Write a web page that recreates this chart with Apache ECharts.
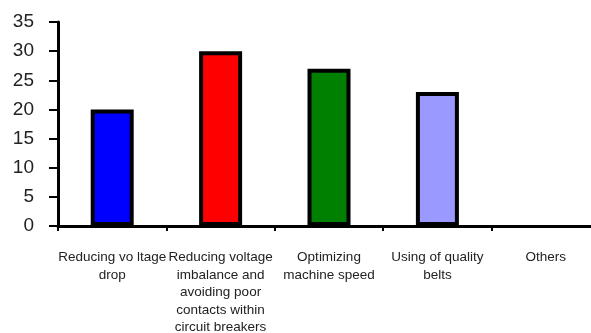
<!DOCTYPE html>
<html>
<head>
<meta charset="utf-8">
<script src="https://cdn.jsdelivr.net/npm/echarts@6/dist/echarts.min.js"></script>
<style>
  html, body { margin: 0; padding: 0; background: #fff; }
  #chart { width: 591px; height: 333px; }
</style>
</head>
<body>
<div id="chart"></div>
<script>
// Measures and their share of impact (%)
const categories = [
  'Reducing vo ltage\ndrop',
  'Reducing voltage\nimbalance and\navoiding poor\ncontacts within\ncircuit breakers',
  'Optimizing\nmachine speed',
  'Using of quality\nbelts',
  'Others'
];
const values = [20, 30, 27, 23, 0];
const barColors = ['#0000ff', '#ff0000', '#008000', '#9999ff', '#ffffff'];
const yTicks = { min: 0, max: 35, interval: 5 };

const chart = echarts.init(document.getElementById('chart'), null, { renderer: 'canvas' });

chart.setOption({
  animation: false,
  backgroundColor: '#ffffff',
  grid: { left: 58, top: 22, width: 542, height: 204, containLabel: false, outerBoundsMode: 'none' },
  xAxis: {
    type: 'category',
    data: categories,
    axisLine: { lineStyle: { color: '#000', width: 3 } },
    axisTick: { show: true, length: 5, lineStyle: { color: '#000', width: 2 } },
    axisLabel: {
      interval: 0,
      margin: 23,
      color: '#222',
      fontFamily: 'Liberation Sans, Arial, sans-serif',
      fontSize: 13.5,
      lineHeight: 17.5
    }
  },
  yAxis: {
    type: 'value',
    min: yTicks.min,
    max: yTicks.max,
    interval: yTicks.interval,
    splitLine: { show: false },
    axisLine: { show: true, lineStyle: { color: '#000', width: 3 } },
    axisTick: { show: true, length: 9, lineStyle: { color: '#000', width: 2 } },
    axisLabel: {
      margin: 24,
      color: '#222',
      fontFamily: 'Liberation Sans, Arial, sans-serif',
      fontSize: 19
    }
  },
  series: [{
    type: 'bar',
    data: values.map((v, i) => ({
      value: v,
      itemStyle: { color: barColors[i], borderColor: v > 0 ? '#000' : 'transparent', borderWidth: v > 0 ? 4 : 0 }
    })),
    barWidth: 43
  }]
});
</script>
</body>
</html>
